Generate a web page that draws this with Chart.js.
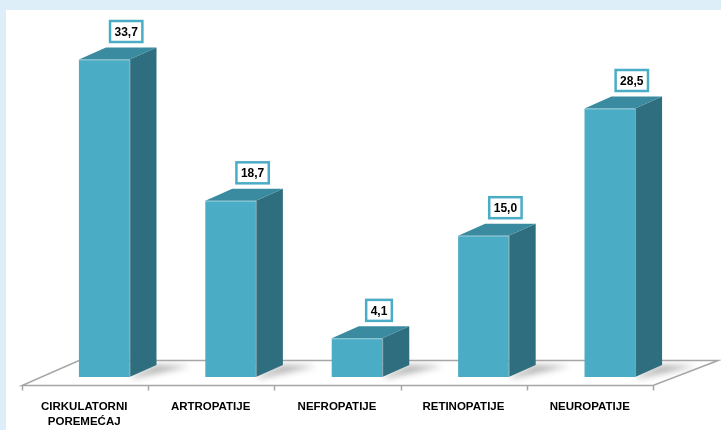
<!DOCTYPE html>
<html><head><meta charset="utf-8">
<style>html,body{margin:0;padding:0;background:#deeef8;overflow:hidden;} #wrap{position:absolute;left:0;top:0;width:721px;height:430px;}</style>
<script src="https://cdn.jsdelivr.net/npm/chart.js@4.4.1/dist/chart.umd.min.js"></script>
</head><body><div id="wrap"><canvas id="c" width="721" height="430"></canvas></div>
<script>
const categories = [['CIRKULATORNI','POREMEĆAJ'], 'ARTROPATIJE', 'NEFROPATIJE', 'RETINOPATIJE', 'NEUROPATIJE'];
const values = [33.7, 18.7, 4.1, 15.0, 28.5];
const valueLabels = ['33,7', '18,7', '4,1', '15,0', '28,5'];

const FRONT = '#4bacc6', SIDE = '#2f6e7e', TOP = '#3b8ba0';
const DX = 27, DY = -12;

const threeD = {
  id: 'threeD',
  beforeDraw(chart) {
    const ctx = chart.ctx;
    ctx.save();
    ctx.fillStyle = '#deeef8';
    ctx.fillRect(0, 0, chart.width, chart.height);
    ctx.fillStyle = '#ffffff';
    ctx.fillRect(6, 10, chart.width - 6, chart.height - 10);
    ctx.restore();
  },
  beforeDatasetsDraw(chart) {
    const ctx = chart.ctx, a = chart.chartArea, ys = chart.scales.y;
    const z = ys.getPixelForValue(0);
    const fy = z + 8.5, by = z - 16.5;
    const fl = a.left - 19, fr = a.right - 20, bl = a.left + 38, br = a.right + 45;
    ctx.save();
    const meta = chart.getDatasetMeta(0);
    meta.data.forEach(el => {
      const p = el.getProps(['x', 'y', 'base', 'width'], true);
      const r = p.x + p.width / 2;
      ctx.save();
      ctx.filter = 'blur(3px)';
      ctx.fillStyle = 'rgba(90,90,90,0.45)';
      ctx.beginPath();
      ctx.moveTo(r, p.base);
      ctx.lineTo(r + DX, p.base + DY);
      ctx.lineTo(r + DX + 34, p.base + DY + 1);
      ctx.lineTo(r + 6, p.base + 1);
      ctx.closePath();
      ctx.fill();
      ctx.restore();
    });
    ctx.strokeStyle = '#a6a6a6';
    ctx.lineWidth = 1.5;
    ctx.beginPath();
    ctx.moveTo(fl, fy); ctx.lineTo(fr, fy); ctx.lineTo(br, by); ctx.lineTo(bl, by); ctx.closePath();
    ctx.stroke();
    const step = (fr - fl) / categories.length;
    ctx.beginPath();
    for (let i = 0; i <= categories.length; i++) {
      const x = Math.round(fl + i * step) + 0.5;
      ctx.moveTo(x, fy); ctx.lineTo(x, fy + 5);
    }
    ctx.stroke();
    ctx.restore();
  },
  afterDatasetsDraw(chart) {
    const ctx = chart.ctx;
    const meta = chart.getDatasetMeta(0);
    ctx.save();
    meta.data.forEach((el, i) => {
      const p = el.getProps(['x', 'y', 'base', 'width'], true);
      const l = p.x - p.width / 2, r = p.x + p.width / 2;
      ctx.fillStyle = SIDE;
      ctx.beginPath();
      ctx.moveTo(r, p.y); ctx.lineTo(r + DX, p.y + DY); ctx.lineTo(r + DX, p.base + DY); ctx.lineTo(r, p.base);
      ctx.closePath(); ctx.fill();
      ctx.fillStyle = TOP;
      ctx.beginPath();
      ctx.moveTo(l, p.y); ctx.lineTo(r, p.y); ctx.lineTo(r + DX, p.y + DY); ctx.lineTo(l + DX, p.y + DY);
      ctx.closePath(); ctx.fill();
      ctx.strokeStyle = 'rgba(255,255,255,0.35)';
      ctx.lineWidth = 1;
      ctx.beginPath();
      ctx.moveTo(l, p.y + 0.5); ctx.lineTo(r + 0.5, p.y + 0.5); ctx.lineTo(r + 0.5, p.base);
      ctx.stroke();
      ctx.font = 'bold 12px "Liberation Sans", Arial, sans-serif';
      const txt = valueLabels[i];
      const w = ctx.measureText(txt).width + 9;
      const h = 21;
      const cx = p.x + 22, cy = p.y - 28;
      ctx.fillStyle = '#ffffff';
      ctx.fillRect(cx - w / 2, cy - h / 2, w, h);
      ctx.strokeStyle = FRONT;
      ctx.lineWidth = 2.5;
      ctx.strokeRect(cx - w / 2, cy - h / 2, w, h);
      ctx.fillStyle = '#000000';
      ctx.textAlign = 'center';
      ctx.textBaseline = 'middle';
      ctx.fillText(txt, cx, cy + 1);
    });
    ctx.restore();
  }
};

new Chart(document.getElementById('c'), {
  type: 'bar',
  data: {
    labels: categories,
    datasets: [{
      data: values,
      backgroundColor: FRONT,
      borderWidth: 0,
      barPercentage: 0.40,
      categoryPercentage: 1.0
    }]
  },
  options: {
    responsive: false,
    animation: false,
    devicePixelRatio: 1,
    layout: { padding: { left: 41, right: 48, top: 19, bottom: 5 } },
    plugins: { legend: { display: false }, tooltip: { enabled: false } },
    scales: {
      y: { display: false, min: 0, max: 38 },
      x: {
        offset: true,
        afterFit(scale) { scale.height = 48; },
        grid: { display: false, drawTicks: false },
        border: { display: false },
        ticks: {
          labelOffset: -20,
          padding: 23,
          maxRotation: 0,
          autoSkip: false,
          color: '#000000',
          font: { family: '"Liberation Sans", Arial, sans-serif', size: 11.5, weight: 'bold', lineHeight: 1.25 }
        }
      }
    }
  },
  plugins: [threeD]
});
</script>
</body></html>
